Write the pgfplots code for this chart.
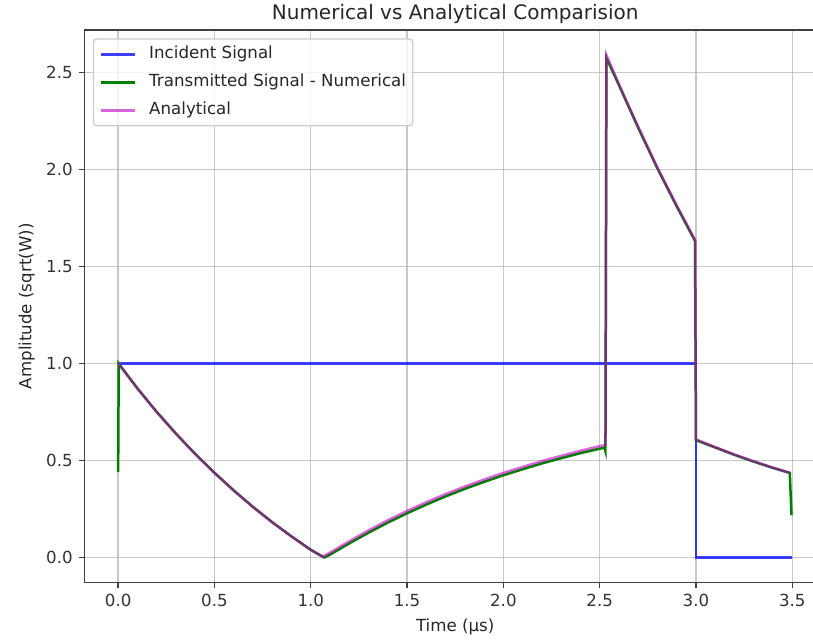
\documentclass[border=0pt]{standalone}
\usepackage{pgfplots}
\pgfplotsset{compat=1.18}
\usepackage{fontspec}
\setmainfont{DejaVu Sans}

\definecolor{mplblue}{RGB}{0,0,255}
\definecolor{mplgreen}{RGB}{0,128,0}
\definecolor{mplmagenta}{RGB}{191,0,191}
\definecolor{gridgray}{RGB}{176,176,176}
\definecolor{legendedge}{RGB}{204,204,204}

% incident pulse: unit amplitude from 0 to 3 us
\pgfplotstableread{
t    a
0    1.0
3.0  1.0
3.0  0.0
3.5  0.0
}\incident

% transmitted pulse, numerical solution
\pgfplotstableread{
t      a
0      0.44
0.003  1.0
0.1    0.872
0.2    0.751
0.3    0.639
0.4    0.534
0.5    0.437
0.6    0.346
0.7    0.261
0.8    0.182
0.9    0.109
1.0    0.040
1.07   0.000
1.1    0.015
1.2    0.073
1.3    0.128
1.4    0.180
1.5    0.228
1.6    0.273
1.7    0.315
1.8    0.354
1.9    0.390
2.0    0.424
2.1    0.455
2.2    0.485
2.3    0.512
2.4    0.538
2.5    0.561
2.525  0.566
2.53   0.548
2.535  2.575
2.6    2.435
2.7    2.215
2.8    2.005
2.9    1.810
2.995  1.632
3.0    0.605
3.1    0.567
3.2    0.529
3.3    0.494
3.4    0.462
3.487  0.436
3.496  0.218
}\numerical

% transmitted pulse, analytical solution
\pgfplotstableread{
t      a
0      1.0
0.1    0.871
0.2    0.750
0.3    0.638
0.4    0.533
0.5    0.436
0.6    0.345
0.7    0.260
0.8    0.181
0.9    0.108
1.0    0.039
1.06   0.004
1.1    0.025
1.2    0.084
1.3    0.140
1.4    0.192
1.5    0.240
1.6    0.285
1.7    0.327
1.8    0.366
1.9    0.402
2.0    0.436
2.1    0.467
2.2    0.497
2.3    0.524
2.4    0.550
2.5    0.574
2.53   0.580
2.535  2.590
2.6    2.440
2.7    2.220
2.8    2.010
2.9    1.815
2.995  1.638
3.0    0.609
3.1    0.569
3.2    0.531
3.3    0.496
3.4    0.463
3.487  0.437
}\analytical

\begin{document}
\begin{tikzpicture}
\begin{axis}[
  scale only axis,
  width=445.2pt, height=331.8pt,
  xmin=-0.175, xmax=3.675,
  ymin=-0.1295, ymax=2.7195,
  xtick={0,0.5,1,1.5,2,2.5,3,3.5},
  ytick={0,0.5,1,1.5,2,2.5},
  xtick pos=lower, ytick pos=left,
  /pgf/number format/assume math mode=true,
  xticklabel style={/pgf/number format/.cd, fixed, fixed zerofill, precision=1},
  yticklabel style={/pgf/number format/.cd, fixed, fixed zerofill, precision=1},
  tick label style={font=\fontsize{10}{12}\selectfont, text=black!80},
  tick align=outside,
  major tick length=3.5pt,
  tick style={black!75, line width=0.8pt},
  axis line style={black!75, line width=0.8pt},
  grid=major,
  grid style={gridgray, line width=0.8pt, opacity=0.7},
  xlabel={Time (µs)},
  ylabel={Amplitude (sqrt(W))},
  label style={font=\fontsize{10}{12}\selectfont, text=black!85},
  title={Numerical vs Analytical Comparision},
  title style={font=\fontsize{12}{14}\selectfont, text=black!85, yshift=-6pt},
  legend cell align=left,
  legend image code/.code={\draw[#1, line width=1.5pt] (0pt,0pt) -- (20pt,0pt);},
  legend style={
    at={(0,1)}, anchor=north west, xshift=5pt, yshift=-5pt,
    draw=legendedge, line width=0.8pt, rounded corners=2pt,
    fill=white, fill opacity=0.8, text opacity=1,
    font=\fontsize{10}{12}\selectfont,
    inner xsep=4pt, inner ysep=4pt,
    row sep=6.3pt,
    nodes={inner sep=0pt, text height=8pt, text depth=2.5pt, text=black!85},
    /tikz/every odd column/.append style={column sep=8pt},
  },
]
\addplot[mplblue, line width=1.5pt, opacity=0.75] table[x=t, y=a] {\incident};
\addlegendentry{Incident Signal}
\addplot[mplgreen, line width=1.5pt] table[x=t, y=a] {\numerical};
\addlegendentry{Transmitted Signal - Numerical}
\addplot[mplmagenta, line width=1.5pt, opacity=0.6] table[x=t, y=a] {\analytical};
\addlegendentry{Analytical}
\end{axis}
% the page keeps 437.4pt of the axis width, cutting the plot just past 3.6 us
\pgfresetboundingbox
\path[use as bounding box]
  ([xshift=-50.7pt, yshift=-35.4pt]current axis.south west)
  rectangle ([xshift=437.4pt, yshift=349.8pt]current axis.south west);
\end{tikzpicture}
\end{document}
